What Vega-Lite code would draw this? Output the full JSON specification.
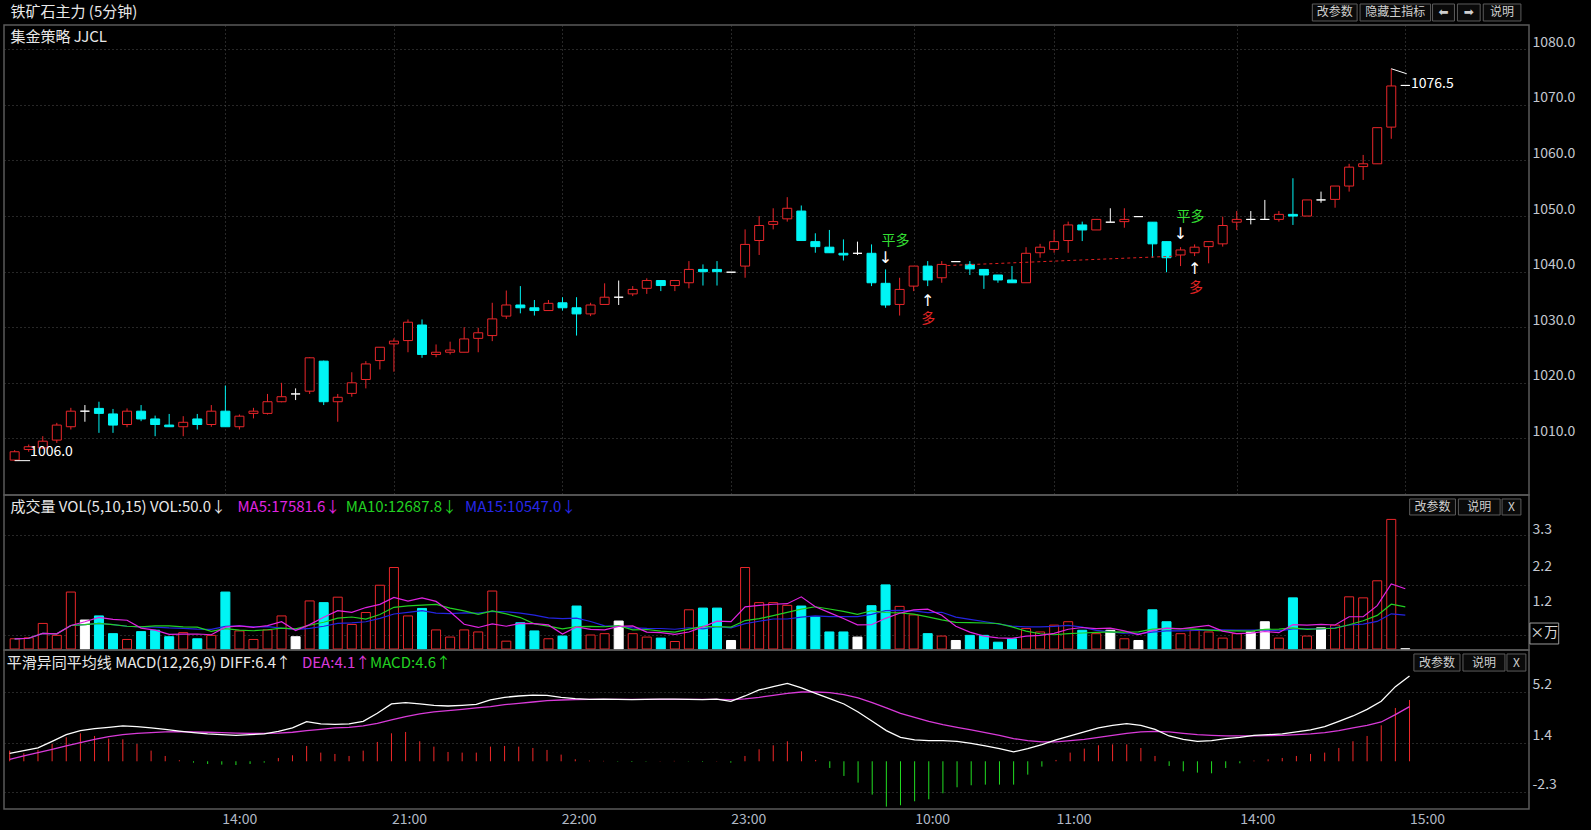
{
"$schema": "https://vega.github.io/schema/vega-lite/v6.json",
"background": "#000000",
"padding": 0,
"autosize": {"type": "pad"},
"spacing": 0,
"bounds": "flush",
"config": {
  "font": "Noto Sans CJK SC",
  "view": {"stroke": "#5a5a5a", "strokeWidth": 1.5},
  "axis": {"domain": false, "ticks": false, "labelColor": "#c4c8d0", "labelFont": "Noto Sans CJK SC", "labelFontSize": 14, "gridColor": "#4e4e4e", "gridDash": [1, 3], "gridWidth": 1},
  "text": {"font": "Noto Sans CJK SC"}
},
"datasets": {
"k": [
{"i":0,"o":1006.1,"h":1007.9,"l":1006.0,"c":1007.6,"v":0.30,"d":0.6,"e":0.15,"m":0.8},
{"i":1,"o":1008.0,"h":1008.9,"l":1007.6,"c":1008.5,"v":0.33,"d":0.8,"e":0.4,"m":0.6},
{"i":2,"o":1008.3,"h":1010.4,"l":1008.1,"c":1009.5,"v":0.75,"d":1.0,"e":0.65,"m":0.85},
{"i":3,"o":1009.7,"h":1012.8,"l":1009.2,"c":1012.4,"v":0.40,"d":1.5,"e":0.9,"m":1.3},
{"i":4,"o":1012.1,"h":1015.5,"l":1011.6,"c":1014.9,"v":1.67,"d":2.0,"e":1.15,"m":1.8},
{"i":5,"o":1014.9,"h":1016.0,"l":1013.0,"c":1014.9,"v":0.85,"d":2.3,"e":1.4,"m":2.1},
{"i":6,"o":1015.4,"h":1016.6,"l":1011.0,"c":1014.5,"v":0.97,"d":2.45,"e":1.65,"m":1.9},
{"i":7,"o":1014.4,"h":1015.3,"l":1011.0,"c":1012.4,"v":0.45,"d":2.55,"e":1.85,"m":1.7},
{"i":8,"o":1012.5,"h":1015.4,"l":1012.0,"c":1014.9,"v":0.28,"d":2.65,"e":2.0,"m":1.65},
{"i":9,"o":1014.9,"h":1016.0,"l":1013.1,"c":1013.5,"v":0.51,"d":2.6,"e":2.1,"m":1.3},
{"i":10,"o":1013.5,"h":1014.1,"l":1010.4,"c":1012.5,"v":0.55,"d":2.5,"e":2.15,"m":0.8},
{"i":11,"o":1012.4,"h":1014.4,"l":1012.1,"c":1012.1,"v":0.36,"d":2.4,"e":2.2,"m":0.4},
{"i":12,"o":1012.1,"h":1014.0,"l":1010.4,"c":1012.9,"v":0.48,"d":2.27,"e":2.22,"m":0.08},
{"i":13,"o":1013.5,"h":1014.4,"l":1011.6,"c":1012.5,"v":0.30,"d":2.15,"e":2.2,"m":-0.1},
{"i":14,"o":1012.5,"h":1016.0,"l":1012.1,"c":1014.9,"v":0.40,"d":2.05,"e":2.18,"m":-0.2},
{"i":15,"o":1014.9,"h":1019.5,"l":1012.1,"c":1012.1,"v":1.67,"d":2.0,"e":2.15,"m":-0.25},
{"i":16,"o":1012.1,"h":1014.3,"l":1011.6,"c":1014.0,"v":0.53,"d":1.95,"e":2.12,"m":-0.28},
{"i":17,"o":1014.5,"h":1015.5,"l":1013.6,"c":1014.9,"v":0.28,"d":2.0,"e":2.1,"m":-0.2},
{"i":18,"o":1014.5,"h":1018.0,"l":1014.3,"c":1016.6,"v":0.56,"d":2.05,"e":2.1,"m":-0.1},
{"i":19,"o":1016.6,"h":1020.0,"l":1016.5,"c":1017.5,"v":0.97,"d":2.25,"e":2.12,"m":0.25},
{"i":20,"o":1018.0,"h":1019.0,"l":1016.9,"c":1018.0,"v":0.36,"d":2.5,"e":2.18,"m":0.45},
{"i":21,"o":1018.5,"h":1024.6,"l":1018.0,"c":1024.5,"v":1.41,"d":2.97,"e":2.3,"m":1.15},
{"i":22,"o":1023.9,"h":1024.0,"l":1016.0,"c":1016.6,"v":1.36,"d":2.8,"e":2.4,"m":0.65},
{"i":23,"o":1016.6,"h":1018.0,"l":1013.0,"c":1017.4,"v":1.52,"d":2.77,"e":2.5,"m":0.55},
{"i":24,"o":1018.1,"h":1021.9,"l":1017.5,"c":1020.0,"v":0.72,"d":2.8,"e":2.55,"m":0.4},
{"i":25,"o":1020.6,"h":1023.9,"l":1019.0,"c":1023.4,"v":1.07,"d":3.0,"e":2.65,"m":0.8},
{"i":26,"o":1024.0,"h":1026.4,"l":1022.4,"c":1026.4,"v":1.87,"d":3.6,"e":2.85,"m":1.45},
{"i":27,"o":1027.0,"h":1028.0,"l":1022.0,"c":1027.5,"v":2.39,"d":4.3,"e":3.1,"m":2.1},
{"i":28,"o":1027.6,"h":1031.4,"l":1025.5,"c":1030.9,"v":0.97,"d":4.4,"e":3.35,"m":2.2},
{"i":29,"o":1030.4,"h":1031.4,"l":1024.5,"c":1025.1,"v":1.19,"d":4.3,"e":3.55,"m":1.5},
{"i":30,"o":1025.1,"h":1026.9,"l":1024.6,"c":1025.5,"v":0.56,"d":4.2,"e":3.7,"m":1.1},
{"i":31,"o":1025.5,"h":1027.4,"l":1025.1,"c":1025.9,"v":0.35,"d":4.15,"e":3.8,"m":0.7},
{"i":32,"o":1025.5,"h":1030.0,"l":1025.5,"c":1027.9,"v":0.56,"d":4.2,"e":3.9,"m":0.65},
{"i":33,"o":1028.0,"h":1029.9,"l":1025.5,"c":1029.0,"v":0.50,"d":4.27,"e":4.0,"m":0.65},
{"i":34,"o":1028.5,"h":1034.4,"l":1027.5,"c":1031.5,"v":1.70,"d":4.6,"e":4.1,"m":1.1},
{"i":35,"o":1032.0,"h":1036.6,"l":1031.5,"c":1034.0,"v":0.23,"d":4.8,"e":4.25,"m":1.15},
{"i":36,"o":1034.0,"h":1037.4,"l":1032.5,"c":1033.5,"v":0.77,"d":4.9,"e":4.35,"m":1.1},
{"i":37,"o":1033.5,"h":1034.9,"l":1032.1,"c":1033.0,"v":0.53,"d":4.97,"e":4.45,"m":1.0},
{"i":38,"o":1033.0,"h":1034.9,"l":1033.0,"c":1034.3,"v":0.30,"d":4.95,"e":4.55,"m":0.85},
{"i":39,"o":1034.4,"h":1035.4,"l":1033.0,"c":1033.5,"v":0.38,"d":4.8,"e":4.6,"m":0.5},
{"i":40,"o":1033.5,"h":1035.4,"l":1028.5,"c":1032.4,"v":1.26,"d":4.7,"e":4.63,"m":0.15},
{"i":41,"o":1032.4,"h":1034.4,"l":1032.0,"c":1034.0,"v":0.41,"d":4.65,"e":4.65,"m":0.05},
{"i":42,"o":1034.1,"h":1037.9,"l":1034.1,"c":1035.4,"v":0.45,"d":4.66,"e":4.65,"m":0.03},
{"i":43,"o":1035.4,"h":1038.4,"l":1034.0,"c":1035.4,"v":0.82,"d":4.64,"e":4.65,"m":-0.03},
{"i":44,"o":1036.0,"h":1037.4,"l":1035.6,"c":1036.8,"v":0.45,"d":4.62,"e":4.65,"m":-0.05},
{"i":45,"o":1037.0,"h":1038.8,"l":1036.0,"c":1038.4,"v":0.35,"d":4.64,"e":4.65,"m":-0.03},
{"i":46,"o":1038.4,"h":1038.4,"l":1036.5,"c":1037.5,"v":0.32,"d":4.66,"e":4.65,"m":0.02},
{"i":47,"o":1037.5,"h":1038.5,"l":1036.5,"c":1038.4,"v":0.22,"d":4.67,"e":4.65,"m":0.03},
{"i":48,"o":1038.0,"h":1041.9,"l":1037.0,"c":1040.4,"v":1.15,"d":4.64,"e":4.65,"m":-0.02},
{"i":49,"o":1040.4,"h":1041.3,"l":1037.5,"c":1040.0,"v":1.20,"d":4.63,"e":4.65,"m":-0.04},
{"i":50,"o":1040.4,"h":1041.9,"l":1037.5,"c":1040.0,"v":1.20,"d":4.66,"e":4.65,"m":0.02},
{"i":51,"o":1039.9,"h":1039.9,"l":1039.9,"c":1039.9,"v":0.25,"d":4.5,"e":4.62,"m":-0.1},
{"i":52,"o":1041.0,"h":1047.6,"l":1038.9,"c":1044.9,"v":2.39,"d":4.9,"e":4.68,"m":0.4},
{"i":53,"o":1045.6,"h":1050.0,"l":1043.0,"c":1048.3,"v":1.36,"d":5.35,"e":4.8,"m":0.9},
{"i":54,"o":1048.5,"h":1051.4,"l":1047.6,"c":1049.0,"v":1.36,"d":5.6,"e":4.95,"m":1.2},
{"i":55,"o":1049.5,"h":1053.4,"l":1049.0,"c":1051.4,"v":1.28,"d":5.85,"e":5.1,"m":1.5},
{"i":56,"o":1050.9,"h":1051.9,"l":1045.6,"c":1045.6,"v":1.26,"d":5.5,"e":5.2,"m":0.75},
{"i":57,"o":1045.4,"h":1046.9,"l":1043.4,"c":1044.5,"v":0.94,"d":5.1,"e":5.2,"m":0.1},
{"i":58,"o":1044.4,"h":1047.5,"l":1043.4,"c":1043.4,"v":0.50,"d":4.7,"e":5.15,"m":-0.5},
{"i":59,"o":1043.3,"h":1045.8,"l":1042.0,"c":1043.0,"v":0.50,"d":4.3,"e":5.0,"m":-1.1},
{"i":60,"o":1043.3,"h":1045.4,"l":1043.0,"c":1043.3,"v":0.35,"d":3.7,"e":4.75,"m":-1.6},
{"i":61,"o":1043.3,"h":1044.9,"l":1037.4,"c":1038.0,"v":1.27,"d":3.0,"e":4.4,"m":-2.5},
{"i":62,"o":1037.9,"h":1040.4,"l":1033.5,"c":1034.0,"v":1.88,"d":2.3,"e":4.0,"m":-3.4},
{"i":63,"o":1034.1,"h":1038.9,"l":1032.1,"c":1036.8,"v":1.25,"d":1.8,"e":3.6,"m":-3.3},
{"i":64,"o":1037.4,"h":1041.0,"l":1036.5,"c":1041.0,"v":1.00,"d":1.6,"e":3.3,"m":-3.0},
{"i":65,"o":1041.0,"h":1041.9,"l":1037.4,"c":1038.5,"v":0.45,"d":1.55,"e":3.0,"m":-2.85},
{"i":66,"o":1038.9,"h":1041.9,"l":1038.0,"c":1041.3,"v":0.38,"d":1.55,"e":2.75,"m":-2.4},
{"i":67,"o":1041.8,"h":1041.8,"l":1041.8,"c":1041.8,"v":0.25,"d":1.5,"e":2.55,"m":-1.95},
{"i":68,"o":1041.3,"h":1041.9,"l":1039.4,"c":1040.5,"v":0.40,"d":1.35,"e":2.35,"m":-1.8},
{"i":69,"o":1040.4,"h":1040.4,"l":1036.9,"c":1039.4,"v":0.40,"d":1.15,"e":2.15,"m":-1.75},
{"i":70,"o":1039.4,"h":1039.4,"l":1038.0,"c":1038.5,"v":0.20,"d":0.95,"e":1.95,"m":-1.75},
{"i":71,"o":1038.5,"h":1041.0,"l":1038.0,"c":1038.0,"v":0.30,"d":0.7,"e":1.7,"m":-1.75},
{"i":72,"o":1038.0,"h":1044.4,"l":1038.0,"c":1043.3,"v":0.60,"d":0.95,"e":1.55,"m":-1.0},
{"i":73,"o":1043.4,"h":1045.0,"l":1042.5,"c":1044.4,"v":0.50,"d":1.25,"e":1.45,"m":-0.4},
{"i":74,"o":1044.0,"h":1047.5,"l":1043.4,"c":1045.4,"v":0.70,"d":1.6,"e":1.45,"m":0.1},
{"i":75,"o":1045.6,"h":1049.0,"l":1043.4,"c":1048.4,"v":0.80,"d":1.9,"e":1.55,"m":0.65},
{"i":76,"o":1048.4,"h":1049.0,"l":1045.5,"c":1047.5,"v":0.55,"d":2.2,"e":1.65,"m":0.95},
{"i":77,"o":1047.5,"h":1049.4,"l":1047.5,"c":1049.4,"v":0.45,"d":2.5,"e":1.8,"m":1.2},
{"i":78,"o":1048.9,"h":1051.4,"l":1048.9,"c":1048.9,"v":0.55,"d":2.7,"e":1.95,"m":1.27},
{"i":79,"o":1049.0,"h":1051.4,"l":1047.9,"c":1049.4,"v":0.30,"d":2.82,"e":2.1,"m":1.27},
{"i":80,"o":1049.9,"h":1049.9,"l":1049.9,"c":1049.9,"v":0.25,"d":2.7,"e":2.2,"m":1.0},
{"i":81,"o":1048.9,"h":1048.9,"l":1042.5,"c":1045.0,"v":1.15,"d":2.4,"e":2.25,"m":0.4},
{"i":82,"o":1045.4,"h":1045.4,"l":1039.9,"c":1042.5,"v":0.80,"d":1.9,"e":2.2,"m":-0.35},
{"i":83,"o":1043.0,"h":1044.4,"l":1041.0,"c":1043.9,"v":0.45,"d":1.65,"e":2.1,"m":-0.75},
{"i":84,"o":1043.4,"h":1044.9,"l":1042.8,"c":1044.4,"v":0.55,"d":1.5,"e":2.0,"m":-0.85},
{"i":85,"o":1044.5,"h":1045.4,"l":1041.5,"c":1045.4,"v":0.50,"d":1.55,"e":1.95,"m":-0.9},
{"i":86,"o":1045.0,"h":1049.9,"l":1044.5,"c":1048.3,"v":0.32,"d":1.7,"e":1.9,"m":-0.5},
{"i":87,"o":1048.9,"h":1050.9,"l":1047.5,"c":1049.4,"v":0.45,"d":1.8,"e":1.9,"m":-0.15},
{"i":88,"o":1049.4,"h":1050.9,"l":1048.5,"c":1049.4,"v":0.50,"d":1.95,"e":1.9,"m":0.05},
{"i":89,"o":1049.4,"h":1052.9,"l":1049.4,"c":1049.4,"v":0.80,"d":2.0,"e":1.92,"m":0.15},
{"i":90,"o":1049.4,"h":1050.9,"l":1049.0,"c":1050.3,"v":0.32,"d":2.05,"e":1.95,"m":0.25},
{"i":91,"o":1050.3,"h":1056.8,"l":1048.4,"c":1050.0,"v":1.50,"d":2.2,"e":2.0,"m":0.4},
{"i":92,"o":1050.0,"h":1052.9,"l":1050.0,"c":1052.9,"v":0.38,"d":2.35,"e":2.05,"m":0.55},
{"i":93,"o":1052.9,"h":1054.4,"l":1052.4,"c":1052.9,"v":0.62,"d":2.6,"e":2.15,"m":0.65},
{"i":94,"o":1053.0,"h":1055.4,"l":1051.5,"c":1055.4,"v":0.70,"d":3.0,"e":2.3,"m":1.0},
{"i":95,"o":1055.4,"h":1059.4,"l":1054.4,"c":1058.8,"v":1.53,"d":3.4,"e":2.5,"m":1.5},
{"i":96,"o":1058.9,"h":1061.0,"l":1056.5,"c":1059.4,"v":1.50,"d":3.9,"e":2.7,"m":1.9},
{"i":97,"o":1059.4,"h":1065.9,"l":1059.4,"c":1065.9,"v":2.00,"d":4.5,"e":2.95,"m":2.7},
{"i":98,"o":1066.0,"h":1076.5,"l":1063.9,"c":1073.4,"v":3.80,"d":5.6,"e":3.5,"m":4.0},
{"i":99,"o":1073.5,"h":1073.5,"l":1073.5,"c":1073.5,"v":0.005,"d":6.4,"e":4.1,"m":4.6}
]
},
"vconcat": [
{
  "width": 1525, "height": 470,
  "data": {"name": "k"},
  "resolve": {"axis": {"x": "independent", "y": "independent"}},
  "layer": [
    {"data": {"values": [{}]}, "mark": {"type": "rect", "fill": "#000000", "opacity": 0},
     "encoding": {"x": {"datum": -0.615, "scale": {"domain": [-0.403, 107.45], "nice": false, "zero": false}, "axis": null}, "x2": {"datum": 111.9},
                  "y": {"datum": 1088.69, "scale": {"domain": [999.82, 1084.37], "nice": false, "zero": false}, "axis": null}, "y2": {"datum": 1084.37}}},
    {"mark": {"type": "rule", "strokeWidth": 1},
     "encoding": {
       "x": {"field": "i", "type": "quantitative", "title": null, "scale": {"domain": [-0.403, 107.45], "nice": false, "zero": false},
             "axis": {"orient": "bottom", "values": [15, 27, 39, 51, 64, 74, 87, 99], "grid": true, "labels": false, "title": null}},
       "y": {"field": "l", "type": "quantitative", "title": null, "scale": {"domain": [999.82, 1084.37], "nice": false, "zero": false},
             "axis": {"orient": "right", "values": [1010, 1020, 1030, 1040, 1050, 1060, 1070, 1080], "format": ".1f", "grid": true, "labelBaseline": "bottom", "labelPadding": 3, "title": null}},
       "y2": {"field": "h"},
       "stroke": {"condition": [{"test": "datum.c > datum.o", "value": "#e8262a"}, {"test": "datum.c < datum.o", "value": "#00f5f5"}], "value": "#ffffff"}
     }},
    {"mark": {"type": "bar", "width": 9, "strokeWidth": 1},
     "encoding": {
       "x": {"field": "i", "type": "quantitative", "title": null, "scale": {"domain": [-0.403, 107.45], "nice": false, "zero": false}, "axis": null},
       "y": {"field": "o", "type": "quantitative", "title": null, "scale": {"domain": [999.82, 1084.37], "nice": false, "zero": false}, "axis": null},
       "y2": {"field": "c"},
       "fill": {"condition": [{"test": "datum.c > datum.o", "value": "#000000"}, {"test": "datum.c < datum.o", "value": "#00f5f5"}], "value": "#ffffff"},
       "stroke": {"condition": [{"test": "datum.c > datum.o", "value": "#e8262a"}, {"test": "datum.c < datum.o", "value": "#00f5f5"}], "value": "#ffffff"}
     }},
    {"data": {"values": [{}]}, "mark": {"type": "rule", "stroke": "#e02020", "strokeDash": [3, 3], "strokeWidth": 1},
     "encoding": {"x": {"datum": 66.4, "axis": null}, "x2": {"datum": 82.7}, "y": {"datum": 1041.1, "axis": null}, "y2": {"datum": 1042.8}}},
    {"data": {"values": [{"i": 62.7, "p": 1045.6, "t": "平多"}, {"i": 83.7, "p": 1049.8, "t": "平多"}]},
     "mark": {"type": "text", "color": "#33dd33", "fontSize": 14, "align": "center", "baseline": "middle"},
     "encoding": {"x": {"field": "i", "type": "quantitative", "axis": null}, "y": {"field": "p", "type": "quantitative", "axis": null}, "text": {"field": "t"}}},
    {"data": {"values": [{"i": 65.03, "p": 1031.4, "t": "多"}, {"i": 84.1, "p": 1037.0, "t": "多"}]},
     "mark": {"type": "text", "color": "#e02424", "fontSize": 14, "align": "center", "baseline": "middle"},
     "encoding": {"x": {"field": "i", "type": "quantitative", "axis": null}, "y": {"field": "p", "type": "quantitative", "axis": null}, "text": {"field": "t"}}},
    {"data": {"values": [{"i": 62.0, "p": 1042.5, "t": "↓"}, {"i": 65.0, "p": 1034.8, "t": "↑"}, {"i": 83.0, "p": 1046.7, "t": "↓"}, {"i": 84.0, "p": 1040.4, "t": "↑"}]},
     "mark": {"type": "text", "color": "#ffffff", "fontSize": 16, "align": "center", "baseline": "middle", "font": "DejaVu Sans"},
     "encoding": {"x": {"field": "i", "type": "quantitative", "axis": null}, "y": {"field": "p", "type": "quantitative", "axis": null}, "text": {"field": "t"}}},
    {"data": {"values": [{}]}, "mark": {"type": "rule", "stroke": "#ffffff", "strokeWidth": 1},
     "encoding": {"x": {"datum": 0, "axis": null}, "x2": {"datum": 1.1}, "y": {"datum": 1006.0, "axis": null}, "y2": {"datum": 1006.0}}},
    {"data": {"values": [{}]}, "mark": {"type": "text", "color": "#ffffff", "fontSize": 14, "align": "left", "baseline": "middle", "text": "1006.0"},
     "encoding": {"x": {"datum": 1.1, "axis": null}, "y": {"datum": 1007.6, "axis": null}}},
    {"data": {"values": [{}]}, "mark": {"type": "rule", "stroke": "#ffffff", "strokeWidth": 1},
     "encoding": {"x": {"datum": 98, "axis": null}, "x2": {"datum": 99.1}, "y": {"datum": 1076.5, "axis": null}, "y2": {"datum": 1075.6}}},
    {"data": {"values": [{}]}, "mark": {"type": "text", "color": "#ffffff", "fontSize": 14, "align": "left", "baseline": "middle", "text": "1076.5"},
     "encoding": {"x": {"datum": 99.4, "axis": null}, "y": {"datum": 1073.7, "axis": null}}},
    {"data": {"values": [{}]}, "mark": {"type": "text", "color": "#e8e8e8", "fontSize": 15, "align": "left", "baseline": "middle", "text": "铁矿石主力 (5分钟)"},
     "encoding": {"x": {"datum": -0.3, "axis": null}, "y": {"datum": 1086.7, "axis": null}}},
    {"data": {"values": [{}]}, "mark": {"type": "text", "color": "#e8e8e8", "fontSize": 15, "align": "left", "baseline": "middle", "text": "集金策略 JJCL"},
     "encoding": {"x": {"datum": -0.3, "axis": null}, "y": {"datum": 1082.2, "axis": null}}},
    {"data": {"values": [{}]}, "mark": {"type": "rect", "fill": "#0a0a0a", "stroke": "#5c5c5c", "strokeWidth": 1},
     "encoding": {"x": {"datum": 92.38, "axis": null}, "x2": {"datum": 95.57}, "y": {"datum": 1088.15, "axis": null}, "y2": {"datum": 1085.09}}},
    {"data": {"values": [{}]}, "mark": {"type": "rect", "fill": "#0a0a0a", "stroke": "#5c5c5c", "strokeWidth": 1},
     "encoding": {"x": {"datum": 95.78, "axis": null}, "x2": {"datum": 100.8}, "y": {"datum": 1088.15, "axis": null}, "y2": {"datum": 1085.09}}},
    {"data": {"values": [{}]}, "mark": {"type": "rect", "fill": "#0a0a0a", "stroke": "#5c5c5c", "strokeWidth": 1},
     "encoding": {"x": {"datum": 100.94, "axis": null}, "x2": {"datum": 102.5}, "y": {"datum": 1088.15, "axis": null}, "y2": {"datum": 1085.09}}},
    {"data": {"values": [{}]}, "mark": {"type": "rect", "fill": "#0a0a0a", "stroke": "#5c5c5c", "strokeWidth": 1},
     "encoding": {"x": {"datum": 102.71, "axis": null}, "x2": {"datum": 104.33}, "y": {"datum": 1088.15, "axis": null}, "y2": {"datum": 1085.09}}},
    {"data": {"values": [{}]}, "mark": {"type": "rect", "fill": "#0a0a0a", "stroke": "#5c5c5c", "strokeWidth": 1},
     "encoding": {"x": {"datum": 104.55, "axis": null}, "x2": {"datum": 107.23}, "y": {"datum": 1088.15, "axis": null}, "y2": {"datum": 1085.09}}},
    {"data": {"values": [{}]}, "mark": {"type": "text", "color": "#cfcfcf", "fontSize": 12, "align": "center", "baseline": "middle", "text": "改参数"},
     "encoding": {"x": {"datum": 93.98, "axis": null}, "y": {"datum": 1086.62, "axis": null}}},
    {"data": {"values": [{}]}, "mark": {"type": "text", "color": "#cfcfcf", "fontSize": 12, "align": "center", "baseline": "middle", "text": "隐藏主指标"},
     "encoding": {"x": {"datum": 98.29, "axis": null}, "y": {"datum": 1086.62, "axis": null}}},
    {"data": {"values": [{}]}, "mark": {"type": "text", "color": "#cfcfcf", "fontSize": 12, "align": "center", "baseline": "middle", "text": "⬅", "font": "DejaVu Sans"},
     "encoding": {"x": {"datum": 101.72, "axis": null}, "y": {"datum": 1086.62, "axis": null}}},
    {"data": {"values": [{}]}, "mark": {"type": "text", "color": "#cfcfcf", "fontSize": 12, "align": "center", "baseline": "middle", "text": "➡", "font": "DejaVu Sans"},
     "encoding": {"x": {"datum": 103.52, "axis": null}, "y": {"datum": 1086.62, "axis": null}}},
    {"data": {"values": [{}]}, "mark": {"type": "text", "color": "#cfcfcf", "fontSize": 12, "align": "center", "baseline": "middle", "text": "说明"},
     "encoding": {"x": {"datum": 105.89, "axis": null}, "y": {"datum": 1086.62, "axis": null}}}
  ]
},
{
  "width": 1525, "height": 155,
  "data": {"name": "k"},
  "resolve": {"axis": {"x": "independent", "y": "independent"}},
  "layer": [
    {"mark": {"type": "bar", "width": 9, "strokeWidth": 1},
     "encoding": {
       "x": {"field": "i", "type": "quantitative", "title": null, "scale": {"domain": [-0.403, 107.45], "nice": false, "zero": false}, "axis": null},
       "y": {"field": "v", "type": "quantitative", "title": null, "scale": {"domain": [-0.029, 4.516], "nice": false, "zero": false},
             "axis": {"orient": "right", "values": [1.2, 2.2, 3.3], "format": ".1f", "grid": false, "labelBaseline": "bottom", "labelPadding": 3, "title": null}},
       "y2": {"datum": 0},
       "fill": {"condition": [{"test": "datum.c > datum.o", "value": "#000000"}, {"test": "datum.c < datum.o", "value": "#00f5f5"}], "value": "#ffffff"},
       "stroke": {"condition": [{"test": "datum.c > datum.o", "value": "#e8262a"}, {"test": "datum.c < datum.o", "value": "#00f5f5"}], "value": "#ffffff"}
     }},
    {"transform": [{"window": [{"op": "mean", "field": "v", "as": "ma15"}], "frame": [-14, 0], "sort": [{"field": "i"}]}],
     "mark": {"type": "line", "strokeWidth": 1.2, "color": "#2424e0"},
     "encoding": {
       "x": {"field": "i", "type": "quantitative", "title": null, "scale": {"domain": [-0.403, 107.45], "nice": false, "zero": false}, "axis": null},
       "y": {"field": "ma15", "type": "quantitative", "title": null, "scale": {"domain": [-0.029, 4.516], "nice": false, "zero": false},
             "axis": {"orient": "right", "values": [0.4, 1.87, 3.34], "grid": true, "labels": false, "title": null}}
     }},
    {"transform": [{"window": [{"op": "mean", "field": "v", "as": "ma10"}], "frame": [-9, 0], "sort": [{"field": "i"}]}],
     "mark": {"type": "line", "strokeWidth": 1.2, "color": "#22d022"},
     "encoding": {
       "x": {"field": "i", "type": "quantitative", "title": null, "scale": {"domain": [-0.403, 107.45], "nice": false, "zero": false}, "axis": null},
       "y": {"field": "ma10", "type": "quantitative", "title": null, "scale": {"domain": [-0.029, 4.516], "nice": false, "zero": false}, "axis": null}
     }},
    {"transform": [{"window": [{"op": "mean", "field": "v", "as": "ma5"}], "frame": [-4, 0], "sort": [{"field": "i"}]}],
     "mark": {"type": "line", "strokeWidth": 1.2, "color": "#e024e0"},
     "encoding": {
       "x": {"field": "i", "type": "quantitative", "title": null, "scale": {"domain": [-0.403, 107.45], "nice": false, "zero": false}, "axis": null},
       "y": {"field": "ma5", "type": "quantitative", "title": null, "scale": {"domain": [-0.029, 4.516], "nice": false, "zero": false}, "axis": null}
     }},
    {"data": {"values": [{}]}, "mark": {"type": "text", "color": "#e8e8e8", "fontSize": 15, "align": "left", "baseline": "middle", "text": "成交量 VOL(5,10,15) VOL:50.0↓"},
     "encoding": {"x": {"datum": -0.3, "axis": null}, "y": {"datum": 4.164, "axis": null}}},
    {"data": {"values": [{}]}, "mark": {"type": "text", "color": "#e024e0", "fontSize": 15, "align": "left", "baseline": "middle", "text": "MA5:17581.6↓"},
     "encoding": {"x": {"datum": 15.86, "axis": null}, "y": {"datum": 4.164, "axis": null}}},
    {"data": {"values": [{}]}, "mark": {"type": "text", "color": "#22d022", "fontSize": 15, "align": "left", "baseline": "middle", "text": "MA10:12687.8↓"},
     "encoding": {"x": {"datum": 23.57, "axis": null}, "y": {"datum": 4.164, "axis": null}}},
    {"data": {"values": [{}]}, "mark": {"type": "text", "color": "#2828e8", "fontSize": 15, "align": "left", "baseline": "middle", "text": "MA15:10547.0↓"},
     "encoding": {"x": {"datum": 32.06, "axis": null}, "y": {"datum": 4.164, "axis": null}}},
    {"data": {"values": [{}]}, "mark": {"type": "rect", "fill": "#0a0a0a", "stroke": "#5c5c5c", "strokeWidth": 1},
     "encoding": {"x": {"datum": 99.31, "axis": null}, "x2": {"datum": 102.57}, "y": {"datum": 4.40, "axis": null}, "y2": {"datum": 3.93}}},
    {"data": {"values": [{}]}, "mark": {"type": "rect", "fill": "#0a0a0a", "stroke": "#5c5c5c", "strokeWidth": 1},
     "encoding": {"x": {"datum": 102.78, "axis": null}, "x2": {"datum": 105.75}, "y": {"datum": 4.40, "axis": null}, "y2": {"datum": 3.93}}},
    {"data": {"values": [{}]}, "mark": {"type": "rect", "fill": "#0a0a0a", "stroke": "#5c5c5c", "strokeWidth": 1},
     "encoding": {"x": {"datum": 105.89, "axis": null}, "x2": {"datum": 107.23}, "y": {"datum": 4.40, "axis": null}, "y2": {"datum": 3.93}}},
    {"data": {"values": [{}]}, "mark": {"type": "text", "color": "#cfcfcf", "fontSize": 12, "align": "center", "baseline": "middle", "text": "改参数"},
     "encoding": {"x": {"datum": 100.94, "axis": null}, "y": {"datum": 4.165, "axis": null}}},
    {"data": {"values": [{}]}, "mark": {"type": "text", "color": "#cfcfcf", "fontSize": 12, "align": "center", "baseline": "middle", "text": "说明"},
     "encoding": {"x": {"datum": 104.27, "axis": null}, "y": {"datum": 4.165, "axis": null}}},
    {"data": {"values": [{}]}, "mark": {"type": "text", "color": "#cfcfcf", "fontSize": 12, "align": "center", "baseline": "middle", "text": "X"},
     "encoding": {"x": {"datum": 106.56, "axis": null}, "y": {"datum": 4.165, "axis": null}}},
    {"data": {"values": [{}]}, "mark": {"type": "rect", "fill": "#000000", "stroke": "#9a9a9a", "strokeWidth": 1},
     "encoding": {"x": {"datum": 107.87, "axis": null}, "x2": {"datum": 109.92}, "y": {"datum": 0.762, "axis": null}, "y2": {"datum": 0.147}}},
    {"data": {"values": [{}]}, "mark": {"type": "text", "color": "#d8d8d8", "fontSize": 14, "align": "center", "baseline": "middle", "text": "×万"},
     "encoding": {"x": {"datum": 108.9, "axis": null}, "y": {"datum": 0.455, "axis": null}}}
  ]
},
{
  "width": 1525, "height": 159,
  "data": {"name": "k"},
  "resolve": {"axis": {"x": "independent", "y": "independent"}},
  "layer": [
    {"data": {"values": [{}]}, "mark": {"type": "rect", "fill": "#000000", "opacity": 0},
     "encoding": {"x": {"datum": -0.615, "scale": {"domain": [-0.403, 107.45], "nice": false, "zero": false}, "axis": null}, "x2": {"datum": 111.9},
                  "y": {"datum": -3.58, "scale": {"domain": [-3.58, 8.35], "nice": false, "zero": false}, "axis": null}, "y2": {"datum": -5.23}}},
    {"mark": {"type": "rule", "strokeWidth": 1},
     "encoding": {
       "x": {"field": "i", "type": "quantitative", "title": null, "scale": {"domain": [-0.403, 107.45], "nice": false, "zero": false},
             "axis": {"orient": "bottom", "values": [15, 27, 39, 51, 64, 74, 87, 99], "grid": false, "labelAlign": "left", "labelBaseline": "top", "labelPadding": 3, "labelColor": "#b0b8c4", "labelFlush": false, "labelBound": false, "labelOverlap": false, "title": null, "zindex": 1,
                      "labelExpr": "datum.value == 15 ? '14:00' : datum.value == 27 ? '21:00' : datum.value == 39 ? '22:00' : datum.value == 51 ? '23:00' : datum.value == 64 ? '10:00' : datum.value == 74 ? '11:00' : datum.value == 87 ? '14:00' : '15:00'"}},
       "y": {"field": "m", "type": "quantitative", "title": null, "scale": {"domain": [-3.58, 8.35], "nice": false, "zero": false},
             "axis": {"orient": "right", "values": [-2.3, 1.4, 5.2], "grid": true, "labelBaseline": "bottom", "labelPadding": 3, "title": null,
                      "labelExpr": "datum.value < 0 ? '-' + format(-datum.value, '.1f') : format(datum.value, '.1f')"}},
       "y2": {"datum": 0},
       "stroke": {"condition": {"test": "datum.m >= 0", "value": "#f02828"}, "value": "#22dd22"}
     }},
    {"mark": {"type": "line", "strokeWidth": 1.3, "color": "#d83ad8"},
     "encoding": {
       "x": {"field": "i", "type": "quantitative", "title": null, "scale": {"domain": [-0.403, 107.45], "nice": false, "zero": false}, "axis": null},
       "y": {"field": "e", "type": "quantitative", "title": null, "scale": {"domain": [-3.58, 8.35], "nice": false, "zero": false}, "axis": null}
     }},
    {"mark": {"type": "line", "strokeWidth": 1.3, "color": "#ffffff"},
     "encoding": {
       "x": {"field": "i", "type": "quantitative", "title": null, "scale": {"domain": [-0.403, 107.45], "nice": false, "zero": false}, "axis": null},
       "y": {"field": "d", "type": "quantitative", "title": null, "scale": {"domain": [-3.58, 8.35], "nice": false, "zero": false}, "axis": null}
     }},
    {"data": {"values": [{}]}, "mark": {"type": "text", "color": "#e8e8e8", "fontSize": 15, "align": "left", "baseline": "middle", "text": "平滑异同平均线 MACD(12,26,9) DIFF:6.4↑"},
     "encoding": {"x": {"datum": -0.2, "axis": null}, "y": {"datum": 7.40, "axis": null}}},
    {"data": {"values": [{}]}, "mark": {"type": "text", "color": "#d83ad8", "fontSize": 15, "align": "left", "baseline": "middle", "text": "DEA:4.1↑"},
     "encoding": {"x": {"datum": 20.67, "axis": null}, "y": {"datum": 7.40, "axis": null}}},
    {"data": {"values": [{}]}, "mark": {"type": "text", "color": "#22d022", "fontSize": 15, "align": "left", "baseline": "middle", "text": "MACD:4.6↑"},
     "encoding": {"x": {"datum": 25.48, "axis": null}, "y": {"datum": 7.40, "axis": null}}},
    {"data": {"values": [{}]}, "mark": {"type": "rect", "fill": "#0a0a0a", "stroke": "#5c5c5c", "strokeWidth": 1},
     "encoding": {"x": {"datum": 99.31, "axis": null}, "x2": {"datum": 102.57}, "y": {"datum": 8.05, "axis": null}, "y2": {"datum": 6.77}}},
    {"data": {"values": [{}]}, "mark": {"type": "rect", "fill": "#0a0a0a", "stroke": "#5c5c5c", "strokeWidth": 1},
     "encoding": {"x": {"datum": 102.78, "axis": null}, "x2": {"datum": 105.75}, "y": {"datum": 8.05, "axis": null}, "y2": {"datum": 6.77}}},
    {"data": {"values": [{}]}, "mark": {"type": "rect", "fill": "#0a0a0a", "stroke": "#5c5c5c", "strokeWidth": 1},
     "encoding": {"x": {"datum": 105.89, "axis": null}, "x2": {"datum": 107.23}, "y": {"datum": 8.05, "axis": null}, "y2": {"datum": 6.77}}},
    {"data": {"values": [{}]}, "mark": {"type": "text", "color": "#cfcfcf", "fontSize": 12, "align": "center", "baseline": "middle", "text": "改参数"},
     "encoding": {"x": {"datum": 100.94, "axis": null}, "y": {"datum": 7.41, "axis": null}}},
    {"data": {"values": [{}]}, "mark": {"type": "text", "color": "#cfcfcf", "fontSize": 12, "align": "center", "baseline": "middle", "text": "说明"},
     "encoding": {"x": {"datum": 104.27, "axis": null}, "y": {"datum": 7.41, "axis": null}}},
    {"data": {"values": [{}]}, "mark": {"type": "text", "color": "#cfcfcf", "fontSize": 12, "align": "center", "baseline": "middle", "text": "X"},
     "encoding": {"x": {"datum": 106.56, "axis": null}, "y": {"datum": 7.41, "axis": null}}}
  ]
}
]
}
